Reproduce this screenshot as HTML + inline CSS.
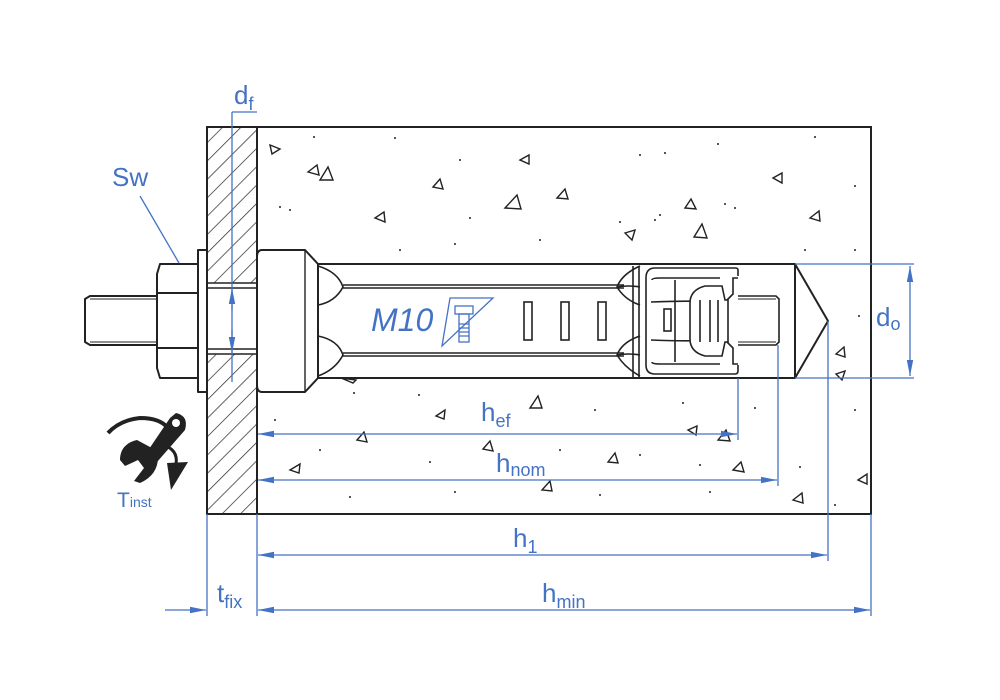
<!DOCTYPE html>
<html><head><meta charset="utf-8"><style>
html,body{margin:0;padding:0;background:#fff;}
svg{display:block;}
text{font-family:"Liberation Sans",sans-serif;fill:#4472c4;}
</style></head><body>
<svg width="1000" height="700" viewBox="0 0 1000 700" xmlns="http://www.w3.org/2000/svg">
<defs>
<pattern id="h" patternUnits="userSpaceOnUse" width="13" height="13" patternTransform="rotate(45)">
<line x1="0" y1="0" x2="0" y2="13" stroke="#222" stroke-width="1.4"/>
</pattern>
<marker id="b" viewBox="0 0 20 10" refX="20" refY="5" markerWidth="20" markerHeight="8" orient="auto-start-reverse" markerUnits="userSpaceOnUse">
<path d="M0,1 L20,5 L0,9 Z" fill="#4472c4"/>
</marker>
</defs>
<rect x="207" y="127" width="664" height="387" fill="#fff" stroke="#222" stroke-width="2"/>
<rect x="207" y="127" width="50" height="387" fill="url(#h)" stroke="#222" stroke-width="2"/>
<rect x="208" y="283" width="48" height="71" fill="#fff"/>
<g stroke="#222" stroke-width="1.6" fill="none">
<line x1="207" y1="283" x2="257" y2="283"/><line x1="207" y1="288" x2="257" y2="288"/>
<line x1="207" y1="349" x2="257" y2="349"/><line x1="207" y1="354" x2="257" y2="354"/>
</g>
<g fill="none" stroke="#222" stroke-width="1.4">
<path d="M270,145 l10,4 l-8,5z"/><path d="M308,172 l9,-7 l2,10z"/><path d="M320,180 l8,-13 l5,13z"/>
<path d="M433,187 l7,-8 l3,10z"/><path d="M520,160 l9,-5 l0,9z"/><path d="M505,208 l12,-13 l4,14z"/>
<path d="M557,198 l8,-9 l3,10z"/><path d="M375,218 l9,-6 l1,10z"/><path d="M625,233 l10,-3 l-3,10z"/>
<path d="M685,208 l6,-9 l5,10z"/><path d="M694,237 l8,-13 l5,14z"/><path d="M773,178 l9,-5 l0,10z"/>
<path d="M810,218 l9,-7 l1,10z"/><path d="M836,354 l8,-7 l1,10z"/><path d="M836,374 l9,-3 l-3,9z"/>
<path d="M436,416 l9,-6 l-1,9z"/><path d="M530,408 l8,-12 l4,12z"/><path d="M357,440 l7,-8 l3,10z"/>
<path d="M688,430 l9,-4 l-1,9z"/><path d="M718,440 l8,-10 l4,11z"/><path d="M483,449 l7,-8 l3,10z"/>
<path d="M608,462 l7,-9 l3,10z"/><path d="M733,470 l8,-8 l3,10z"/><path d="M290,470 l10,-6 l-1,9z"/>
<path d="M542,490 l8,-9 l2,10z"/><path d="M858,480 l9,-6 l0,10z"/><path d="M793,500 l9,-7 l1,10z"/>
<path d="M341,378 l15,2 l-3,3z"/>
</g>
<g fill="#222">
<circle cx="314" cy="137" r="1"/><circle cx="395" cy="138" r="1"/><circle cx="460" cy="160" r="1"/><circle cx="640" cy="155" r="1"/>
<circle cx="665" cy="153" r="1"/><circle cx="718" cy="144" r="1"/><circle cx="815" cy="137" r="1"/><circle cx="855" cy="186" r="1"/>
<circle cx="280" cy="207" r="1"/><circle cx="290" cy="210" r="1"/><circle cx="470" cy="218" r="1"/><circle cx="620" cy="222" r="1"/>
<circle cx="655" cy="220" r="1"/><circle cx="660" cy="215" r="1"/><circle cx="725" cy="204" r="1"/><circle cx="735" cy="208" r="1"/>
<circle cx="400" cy="250" r="1"/><circle cx="455" cy="244" r="1"/><circle cx="540" cy="240" r="1"/><circle cx="805" cy="250" r="1"/>
<circle cx="855" cy="250" r="1"/><circle cx="859" cy="316" r="1"/><circle cx="354" cy="393" r="1"/><circle cx="419" cy="395" r="1"/>
<circle cx="595" cy="410" r="1"/><circle cx="683" cy="403" r="1"/><circle cx="755" cy="408" r="1"/><circle cx="855" cy="410" r="1"/>
<circle cx="320" cy="450" r="1"/><circle cx="430" cy="462" r="1"/><circle cx="560" cy="450" r="1"/><circle cx="640" cy="455" r="1"/>
<circle cx="700" cy="465" r="1"/><circle cx="800" cy="467" r="1"/><circle cx="350" cy="497" r="1"/><circle cx="455" cy="492" r="1"/>
<circle cx="600" cy="495" r="1"/><circle cx="710" cy="492" r="1"/><circle cx="835" cy="505" r="1"/><circle cx="275" cy="420" r="1"/>
</g>
<g stroke="#222" stroke-width="2" fill="#fff" stroke-linejoin="round">
<path d="M85,299 L90,296 L157,296 L157,345 L90,345 L85,342 Z"/>
<line x1="90" y1="299" x2="157" y2="299" stroke-width="1"/>
<line x1="90" y1="342" x2="157" y2="342" stroke-width="1"/>
<path d="M160,264 L198,264 L198,378 L160,378 L157,368 L157,274 Z"/>
<line x1="157" y1="293" x2="198" y2="293"/><line x1="157" y1="348" x2="198" y2="348"/>
<rect x="198" y="250" width="9" height="142"/>
<path d="M262,250 L305,250 L318,264 L318,378 L305,392 L262,392 Q257,392 257,385 L257,257 Q257,250 262,250 Z"/>
<line x1="305" y1="250" x2="305" y2="392" stroke-width="1.4"/>
<path d="M318,264 L795,264 L828,321 L795,378 L318,378 Z"/>
<line x1="795" y1="264" x2="795" y2="378"/>
</g>
<g stroke="#222" stroke-width="1.6" fill="none">
<line x1="343" y1="285" x2="624" y2="285"/><line x1="343" y1="288" x2="624" y2="288"/>
<line x1="343" y1="353" x2="624" y2="353"/><line x1="343" y1="356" x2="624" y2="356"/>
<path d="M318,266 Q338,272 343,287 Q335,302 318,305"/><path d="M318,336 Q338,340 343,355 Q335,370 318,376"/>
<path d="M640,266 Q622,274 617,287 Q625,300 640,305"/><path d="M640,336 Q622,342 617,355 Q625,368 640,376"/>
<path d="M640,287 Q628,285 617,287"/><path d="M640,355 Q628,353 617,355"/>
<rect x="524" y="302" width="8" height="38"/><rect x="561" y="302" width="8" height="38"/><rect x="598" y="302" width="8" height="38"/>
<line x1="633" y1="266" x2="633" y2="378"/><line x1="639" y1="266" x2="639" y2="378"/>
<path d="M738,276 L738,270 Q738,268 735,268 L655,268 Q646,268 646,278 L646,365 Q646,374 655,374 L735,374 Q738,374 738,371 L738,365"/>
<path d="M738,278 L733,278 L733,294 L727,300 L727,342 L733,348 L733,364 L738,364"/>
<path d="M651,302 Q700,300 720,303 M651,340 Q700,342 720,339"/>
<path d="M652,280 Q652,278 660,278 L720,278 M652,362 Q652,364 660,364 L720,364"/>
<path d="M675,280 L675,362"/>
<path d="M690,303 Q690,290 705,286 L722,286 L725,300 L728,300 L728,342 L725,342 L722,356 L705,356 Q690,352 690,339 Z" fill="#fff"/>
<line x1="700" y1="300" x2="700" y2="342"/><line x1="710" y1="300" x2="710" y2="342"/><line x1="718" y1="300" x2="718" y2="342"/>
<rect x="664" y="309" width="7" height="22"/>
<path d="M738,296 L776,296 L779,299 L779,342 L776,345 L738,345"/>
<line x1="738" y1="299" x2="776" y2="299" stroke-width="1"/><line x1="738" y1="342" x2="776" y2="342" stroke-width="1"/>
</g>
<text x="371" y="331" font-size="32" font-style="italic">M10</text>
<g stroke="#4472c4" stroke-width="1.3" fill="none">
<path d="M450,298 L493,298 L442,346 Z"/>
<rect x="455" y="306" width="18" height="8"/>
<rect x="459" y="314" width="10" height="28"/>
<path d="M459,324 h10 M459,328 h10 M459,332 h10 M459,336 h10"/>
</g>
<g stroke="#4472c4" stroke-width="1.3" fill="none">
<line x1="232" y1="112" x2="257" y2="112"/>
<line x1="232" y1="112" x2="232" y2="382"/>
<line x1="232" y1="310" x2="232" y2="288" marker-end="url(#b)"/>
<line x1="232" y1="330" x2="232" y2="353" marker-end="url(#b)"/>
<line x1="140" y1="196" x2="179" y2="263"/>
<line x1="795" y1="264" x2="914" y2="264"/><line x1="795" y1="378" x2="914" y2="378"/>
<line x1="910" y1="266" x2="910" y2="376" marker-start="url(#b)" marker-end="url(#b)"/>
<line x1="738" y1="378" x2="738" y2="440"/>
<line x1="778" y1="345" x2="778" y2="486"/>
<line x1="828" y1="321" x2="828" y2="561"/>
<line x1="207" y1="514" x2="207" y2="616"/><line x1="257" y1="514" x2="257" y2="616"/>
<line x1="871" y1="514" x2="871" y2="616"/>
<line x1="258" y1="434" x2="737" y2="434" marker-start="url(#b)" marker-end="url(#b)"/>
<line x1="258" y1="480" x2="777" y2="480" marker-start="url(#b)" marker-end="url(#b)"/>
<line x1="258" y1="555" x2="827" y2="555" marker-start="url(#b)" marker-end="url(#b)"/>
<line x1="258" y1="610" x2="870" y2="610" marker-start="url(#b)" marker-end="url(#b)"/>
<line x1="165" y1="610" x2="206" y2="610" marker-end="url(#b)"/>
</g>
<text x="234" y="104" font-size="26">d<tspan font-size="18" dy="6">f</tspan></text>
<text x="112" y="186" font-size="26">Sw</text>
<text x="876" y="326" font-size="26">d<tspan font-size="18" dy="4">o</tspan></text>
<text x="481" y="421" font-size="26">h<tspan font-size="18" dy="6">ef</tspan></text>
<text x="496" y="472" font-size="26">h<tspan font-size="18" dy="4">nom</tspan></text>
<text x="513" y="547" font-size="26">h<tspan font-size="18" dy="6">1</tspan></text>
<text x="542" y="602" font-size="26">h<tspan font-size="18" dy="6">min</tspan></text>
<text x="217" y="602" font-size="26">t<tspan font-size="18" dy="6">fix</tspan></text>
<text x="117" y="507" font-size="21">T<tspan font-size="14">inst</tspan></text>
<!-- wrench icon -->
<path d="M108,433 Q120,420 140,418 Q160,418 168,428" stroke="#222" stroke-width="4" fill="none"/>
<path d="M166,446 Q180,452 175,468" stroke="#222" stroke-width="3" fill="none"/>
<g fill="#222">
<path d="M176,413 Q189,416 185,430 L157,462 L147,452 L170,418 Z"/>
<path d="M150,447 L158,457 Q158,475 140,483 L134,481 L144,468 L138,460 L125,466 L120,460 Q120,444 137,440 Z"/>
<path d="M167,463 L188,462 L171,490 Z"/>
</g>
<circle cx="176" cy="423" r="4" fill="#fff"/>
</svg>
</body></html>
